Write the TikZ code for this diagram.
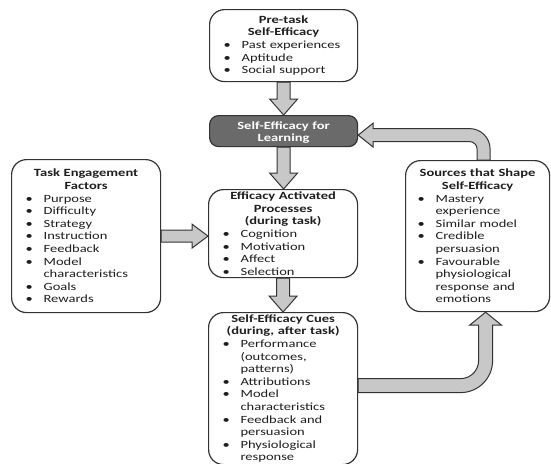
\documentclass[tikz,border=0pt]{standalone}
\usepackage{fontspec}
\setmainfont{Carlito}[FakeStretch=1.32]
\usetikzlibrary{calc,backgrounds}
\definecolor{edge}{HTML}{333333}
\definecolor{arrfill}{HTML}{C8C8C8}
\definecolor{selfill}{HTML}{6A6A6A}
\definecolor{txt}{HTML}{1E1E1E}
\newcommand\bu[1]{\par\makebox[18pt][l]{\textbullet}#1}
\newcommand\cn[1]{\par\hspace*{18pt}#1}
\newcommand\hd[1]{{\centering\bfseries #1\par}}
\newcommand\blkdown[2]{%
  \path[blk] let \p1=(#1), \p2=(#2) in
  (\x1-6.5pt,\y1) -- (\x1-6.5pt,\y2+16pt) -- (\x1-14pt,\y2+16pt) -- (\x1,\y2)
  -- (\x1+14pt,\y2+16pt) -- (\x1+6.5pt,\y2+16pt) -- (\x1+6.5pt,\y1) -- cycle;}
\newcommand\blkright[2]{%
  \path[blk] let \p1=(#1), \p2=(#2) in
  (\x1,\y1+6pt) -- (\x2-16pt,\y1+6pt) -- (\x2-16pt,\y1+12pt) -- (\x2,\y1)
  -- (\x2-16pt,\y1-12pt) -- (\x2-16pt,\y1-6pt) -- (\x1,\y1-6pt) -- cycle;}
\newcommand\blkupcurve[3]{%
  \path[blk] let \p1=(#1), \p2=(#2) in
  (\x1,\y1+7pt) -- (\x2-#3pt,\y1+7pt) arc[start angle=-90,end angle=0,radius=#3pt-7pt]
  -- (\x2-7pt,\y2-13pt) -- (\x2-16pt,\y2-13pt) -- (\x2,\y2) -- (\x2+16pt,\y2-13pt)
  -- (\x2+7pt,\y2-13pt) -- (\x2+7pt,\y1+#3pt) arc[start angle=0,end angle=-90,radius=#3pt+7pt]
  -- (\x1,\y1-7pt) -- cycle;}
\newcommand\blkleftcurve[3]{%
  \path[blk] let \p1=(#1), \p2=(#2) in
  (\x1+6.5pt,\y1) -- (\x1+6.5pt,\y2-#3pt) arc[start angle=0,end angle=90,radius=#3pt+6.5pt]
  -- (\x2+15pt,\y2+6.5pt) -- (\x2+15pt,\y2+12pt) -- (\x2,\y2) -- (\x2+15pt,\y2-12pt)
  -- (\x2+15pt,\y2-6.5pt) -- (\x1-#3pt,\y2-6.5pt) arc[start angle=90,end angle=0,radius=#3pt-6.5pt]
  -- (\x1-6.5pt,\y1) -- cycle;}
\begin{document}
\begin{tikzpicture}[x=1pt,y=-1pt,
  box/.style={draw=edge, line width=1.2pt, rounded corners=15pt, fill=white,
    inner xsep=14pt, inner ysep=0pt, anchor=north west, align=left, text=txt,
    font=\fontsize{11}{12.6}\selectfont,
    execute at begin node={\setlength{\parindent}{0pt}}},
  blk/.style={fill=arrfill, draw=edge, line width=1pt, line join=miter}]
\useasboundingbox (0,0) rectangle (551,463);

\node[box, text width=120pt, minimum height=72pt] (pre) at (209,9)
  {\hd{Pre-task\\Self-Efficacy}\bu{Past experiences}\bu{Aptitude}\bu{Social support}};

\node[box, rounded corners=9pt, fill=selfill, text=white, align=center, text width=120pt, minimum height=31pt] (sel) at (209,115)
  {\rule{0pt}{11pt}\bfseries Self-Efficacy for\\Learning};

\node[box, text width=121pt, minimum height=88pt] (eap) at (208,189)
  {\hd{Efficacy Activated\\Processes\\(during task)}\bu{Cognition}\bu{Motivation}\bu{Affect}\bu{Selection}};

\node[box, text width=121pt, minimum height=152pt] (cues) at (208,312)
  {\hd{Self-Efficacy Cues\\(during, after task)}\bu{Performance}\cn{(outcomes,}\cn{patterns)}\bu{Attributions}\bu{Model}\cn{characteristics}\bu{Feedback and}\cn{persuasion}\bu{Physiological}\cn{response}};

\node[box, text width=121pt, minimum height=153pt] (task) at (11,159)
  {\hd{Task Engagement\\Factors}\bu{Purpose}\bu{Difficulty}\bu{Strategy}\bu{Instruction}\bu{Feedback}\bu{Model}\cn{characteristics}\bu{Goals}\bu{Rewards}};

\node[box, inner xsep=12pt, text width=120pt, minimum height=151pt] (src) at (405,160)
  {\hd{Sources that Shape\\Self-Efficacy}\bu{Mastery}\cn{experience}\bu{Similar model}\bu{Credible}\cn{persuasion}\bu{Favourable}\cn{physiological}\cn{response and}\cn{emotions}};

\begin{pgfonlayer}{background}
\blkdown{pre.south}{sel.north}
\blkdown{sel.south}{eap.north}
\blkdown{eap.south}{cues.north}
\blkright{task.east}{task.east -| eap.west}
\blkleftcurve{$(src.north)+(6,0)$}{$(sel.east)+(0,4)$}{14}
\blkupcurve{$(cues.east)+(0,-3)$}{$(src.south)+(8,0)$}{25}
\end{pgfonlayer}
\end{tikzpicture}
\end{document}
